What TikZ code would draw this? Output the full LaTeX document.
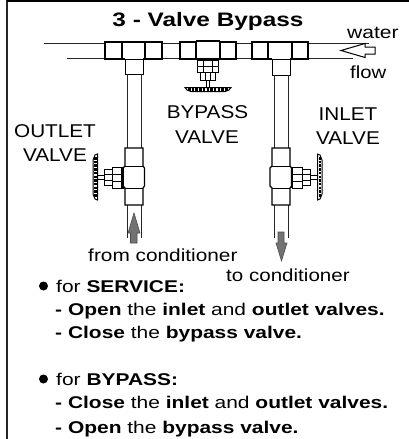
\documentclass[tikz,border=0pt]{standalone}
\usepackage{fontspec}
\setmainfont{Liberation Sans}
\tikzset{
  pipeline/.style={draw=black!85,line width=1pt},
  fitting/.style={draw=black,line width=1.2pt,fill=white},
  thinpart/.style={draw=black,line width=.9pt,fill=white},
  flowarrow/.style={draw=black!70,line width=.6pt,fill=black!55},
  wheel/.style={draw=black,line width=1pt,fill=white},
  wheelmark/.style={draw=black,line width=2.4pt,dash pattern=on 2.5pt off 1.2pt},
  label/.style={font=\fontsize{18.5}{20}\selectfont,inner sep=0pt,anchor=base,xscale=1.12,transform shape},
  small/.style={font=\fontsize{17.5}{20}\selectfont,inner sep=0pt,anchor=base west,transform shape},
  body/.style={font=\fontsize{17}{18}\selectfont,inner sep=0pt,anchor=base west,xscale=1.232,transform shape},
  bulletdot/.style={circle,fill=black,inner sep=0pt,minimum size=9pt},
}
\begin{document}
\begin{tikzpicture}[x=1pt,y=-1pt]
\useasboundingbox (0,0) rectangle (409,439);
\draw[line width=2pt,black!85] (7,0) -- (7,439);
\draw[line width=2pt] (7,0.8) -- (409,0.8);
\node[inner sep=0pt,anchor=base,font=\bfseries\fontsize{19.5}{20}\selectfont,xscale=1.25,transform shape] (title) at (208,27) {3 - Valve Bypass};
% main pipe
\draw[pipeline] (44,43) -- (105,43);
\draw[pipeline] (67,58) -- (105,58);
\draw[pipeline] (162,43) -- (180,43) (162,58) -- (180,58);
\draw[pipeline] (236,43) -- (252,43) (236,58) -- (252,58);
\draw[pipeline] (308,43) -- (369,43) (308,58) -- (353,58);
% left tee
\draw[fitting] (105,42) rectangle (122,59);
\draw[fitting] (145,42) rectangle (162,59);
\draw[fitting] (122,42) -- (145,42) (122,59) -- (125,59) (143,59) -- (145,59);
\draw[thinpart] (125,59) -- (125,74) -- (143,74) -- (143,59);
\draw[thinpart] (125,59.5) -- (143,59.5);
% middle tee
\draw[fitting] (180,42) rectangle (196,59);
\draw[fitting] (220,42) rectangle (236,59);
\draw[fitting] (196,41) -- (220,41) (196,59) -- (220,59);
\draw[thinpart] (197,60) rectangle (218,72);
\draw[thinpart] (197,66) -- (218,66);
\draw[thinpart] (203,60) -- (203,72) (212,60) -- (212,72);
\draw[thinpart] (200,72) rectangle (215,80);
\draw[thinpart] (205,72) -- (205,80) (210,72) -- (210,80);
\draw[thinpart] (206,80) rectangle (209,87);
\draw[wheel] (185,87.5) -- (231,87.5) -- (229,90) -- (225,91.5) -- (191,91.5) -- (187,90) -- cycle;
\draw[wheelmark] (188,89.5) -- (228,89.5);
% right tee
\draw[fitting] (252,42) rectangle (268,59);
\draw[fitting] (292,42) rectangle (308,59);
\draw[fitting] (268,42) -- (292,42) (268,59) -- (272,59) (290,59) -- (292,59);
\draw[thinpart] (272,59) -- (272,75) -- (290,75) -- (290,59);
\draw[thinpart] (272,59.5) -- (290,59.5);
% left vertical pipe
\draw[pipeline] (127,74) -- (127,148) (141,74) -- (141,148);
\draw[pipeline] (127,205) -- (127,238) (141,205) -- (141,238);
% right vertical pipe
\draw[pipeline] (274,75) -- (274,148) (288,75) -- (288,148);
\draw[pipeline] (274,205) -- (274,238) (288,205) -- (288,238);
% left valve
\draw[fitting] (125,148) -- (143,148) -- (143,166) -- (144.5,168) -- (144.5,186) -- (143,188) -- (143,205) -- (125,205) -- (125,188) -- (123,186) -- (123,168) -- (125,166) -- cycle;
\draw[thinpart] (125,166) -- (143,166) (125,188) -- (143,188);
\draw[thinpart] (112,167) rectangle (123,188);
\draw[thinpart] (112,174) -- (123,174) (112,181) -- (123,181);
\draw[line width=2pt] (122,167) -- (122,188);
\draw[thinpart] (104,169) rectangle (112,185);
\draw[thinpart] (104,174) -- (112,174) (104,180) -- (112,180);
\draw[thinpart] (97,175) rectangle (104,179);
\draw[wheel] (97.5,154) -- (97.5,200) -- (95,199) -- (93,194) -- (93,160) -- (95,155) -- cycle;
\draw[wheelmark] (95.3,157) -- (95.3,197);
% right valve
\draw[fitting] (272,148) -- (290,148) -- (290,166) -- (291.5,168) -- (291.5,186) -- (290,188) -- (290,205) -- (272,205) -- (272,188) -- (270,186) -- (270,168) -- (272,166) -- cycle;
\draw[thinpart] (272,166) -- (290,166) (272,188) -- (290,188);
\draw[thinpart] (292,167) rectangle (302,188);
\draw[thinpart] (292,174) -- (302,174) (292,181) -- (302,181);
\draw[line width=2pt] (292,167) -- (292,188);
\draw[thinpart] (302,169) rectangle (310,185);
\draw[thinpart] (302,174) -- (310,174) (302,180) -- (310,180);
\draw[thinpart] (310,175) rectangle (317,179);
\draw[wheel] (317.5,154) -- (317.5,200) -- (320,199) -- (322,194) -- (322,160) -- (320,155) -- cycle;
\draw[wheelmark] (319.7,157) -- (319.7,197);
% flow arrows
\draw[flowarrow] (134,213) -- (140,233) -- (137,233) -- (137,243) -- (130.5,243) -- (130.5,233) -- (128,233) -- cycle;
\draw[flowarrow] (278,232) -- (284,232) -- (284,243) -- (287,243) -- (281.5,261) -- (276,243) -- (278,243) -- cycle;
\draw[draw=black,line width=1pt,fill=white] (341,50.5) -- (365,43.5) -- (365,47) -- (375,47) -- (375,54) -- (365,54) -- (365,57.5) -- cycle;
% labels
\node[small,xscale=1.2] (water) at (347,38) {water};
\node[small,xscale=1.16] (flow) at (350,78) {flow};
\node[label] (bypassa) at (207.5,118) {BYPASS};
\node[label] (bypassb) at (207,143) {VALVE};
\node[label] (inleta) at (348,120) {INLET};
\node[label] (inletb) at (348,144) {VALVE};
\node[label] (outleta) at (55,137) {OUTLET};
\node[label] (outletb) at (55,161) {VALVE};
\node[small,xscale=1.19] (from) at (88,261) {from conditioner};
\node[small,xscale=1.175] (to) at (226,281) {to conditioner};
% instructions
\node[bulletdot] (b1) at (43.5,286) {};
\node[bulletdot] (b2) at (43.5,379) {};
\node[body] (s0) at (56,292) {for \textbf{SERVICE:}};
\node[body] (s1) at (55,315) {\textbf{- Open} the \textbf{inlet} and \textbf{outlet valves.}};
\node[body] (s2) at (55,338) {\textbf{- Close} the \textbf{bypass valve.}};
\node[body] (p0) at (56,385) {for \textbf{BYPASS:}};
\node[body] (p1) at (55,408) {\textbf{- Close} the \textbf{inlet} and \textbf{outlet valves.}};
\node[body] (p2) at (55,433) {\textbf{- Open} the \textbf{bypass valve.}};
\end{tikzpicture}
\end{document}
